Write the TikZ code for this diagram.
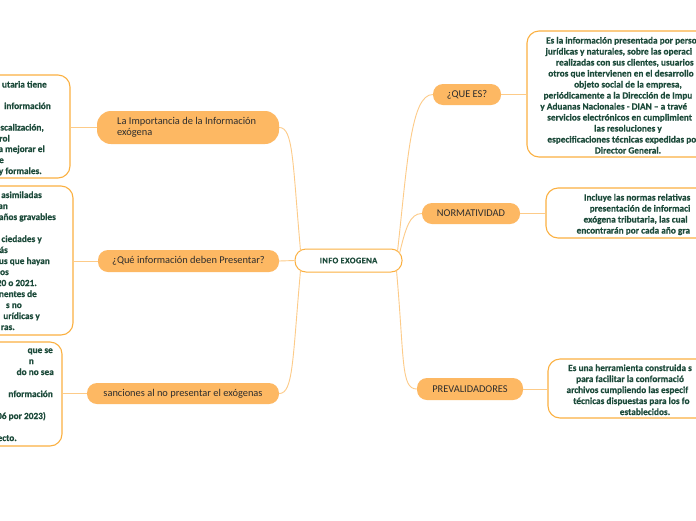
\documentclass[tikz,border=0pt]{standalone}
\usepackage{fontspec}
\setmainfont{Carlito}
\newfontfamily\boxfont{Carlito}[BoldFeatures={FakeBold=0.5}]
\newfontfamily\ctrfont{Carlito}[LetterSpace=5,BoldFeatures={FakeBold=0.5}]
\usetikzlibrary{calc}
\definecolor{ofill}{HTML}{FDB863}
\definecolor{oline}{HTML}{FBB041}
\definecolor{conn}{HTML}{FDCB88}
\definecolor{dgreen}{HTML}{1D4B3B}
\definecolor{ntext}{HTML}{2E2E2E}
\tikzset{
  topic/.style={fill=ofill, draw=none, rounded corners=10pt, minimum height=21pt,
    font=\fontsize{10.4}{11.5}\selectfont, text=ntext, inner sep=0pt},
  infobox/.style={draw=oline, line width=1.1pt, fill=white, rounded corners=12pt, inner sep=0pt},
  btxt/.style={font=\boxfont\bfseries\fontsize{9.3}{11}\selectfont, text=dgreen, inner sep=0pt},
  link/.style={draw=conn, line width=0.9pt},
}
\newcommand\myfrag[4]{\node[btxt, anchor=base east] (#1) at (#2,#3) {#4};}
\newcommand\myline[4]{\node[btxt, anchor=base] (#1) at (#2,#3) {#4};}
\begin{document}
\begin{tikzpicture}[x=1pt,y=-1pt]
\useasboundingbox (0,0) rectangle (696,520);
\clip (0,0) rectangle (696,520);
\fill[white] (0,0) rectangle (696,520);

% info boxes
\node[infobox, minimum width=200pt, minimum height=126pt] (r1) at (627,94) {};
\node[infobox, minimum width=200pt, minimum height=50pt] (r2) at (646,213) {};
\node[infobox, minimum width=200pt, minimum height=59pt] (r3) at (648,388.5) {};
\node[infobox, minimum width=200pt, minimum height=103pt] (l1) at (-30,126.5) {};
\node[infobox, minimum width=200pt, minimum height=149pt] (l2) at (-27,260.5) {};
\node[infobox, minimum width=200pt, minimum height=104pt] (l3) at (-38,394) {};

% topics
\node[topic, minimum width=68pt] (q) at (467,94.5) {¿QUE ES?};
\node[topic, minimum width=98pt] (n) at (471,213.5) {NORMATIVIDAD};
\node[topic, minimum width=106pt, minimum height=22pt] (p) at (470,389) {PREVALIDADORES};
\node[topic, minimum width=182pt, minimum height=33pt, rounded corners=14pt] (li) at (188,127.5) {};
\node[anchor=west, align=left, inner sep=0pt, font=\fontsize{10.4}{11.5}\selectfont, text=ntext] (lit) at (117,127.5) {La Importancia de la Información\\exógena};
\node[topic, minimum width=181pt, minimum height=22pt] (qi) at (188.5,261) {¿Qué información deben Presentar?};
\node[topic, minimum width=192pt] (s) at (183,393.5) {sanciones al no presentar el exógenas};

% central
\node[draw=oline, fill=white, line width=1pt, rounded corners=11pt, minimum width=107pt,
  minimum height=23pt, inner sep=0pt, text=dgreen,
  font=\ctrfont\bfseries\fontsize{8.4}{9}\selectfont] (c) at (348.5,260.5) {INFO EXOGENA};

% connectors
\draw[link] ($(c.east)+(-5,-9)$) .. controls +(10,-90) and +(-22,0) .. (q.west);
\draw[link] ($(c.east)+(-3,-7)$) .. controls +(6,-25) and +(-12,0) .. (n.west);
\draw[link] ($(c.east)+(-6,10)$) .. controls +(8,90) and +(-16,0) .. (p.west);
\draw[link] ($(c.west)+(6,-10)$) .. controls +(-8,-90) and +(14,0) .. (li.east);
\draw[link] (c.west) -- (qi.east);
\draw[link] ($(c.west)+(6,10)$) .. controls +(-8,90) and +(14,0) .. (s.east);
\draw[link] (q.east) -- (q.east -| r1.west);
\draw[link] (n.east) -- (n.east -| r2.west);
\draw[link] (p.east) -- (p.east -| r3.west);
\draw[link] (li.west) -- (li.west -| l1.east);
\draw[link] (qi.west) -- (qi.west -| l2.east);
\draw[link] (s.west) -- (s.west -| l3.east);

% right box 1 text
\myline{a1}{628}{43.5}{Es la información presentada por perso\phantom{nas}}
\myline{a2}{628}{54.5}{jurídicas y naturales, sobre las operaci\phantom{ones}}
\myline{a3}{628}{65.5}{realizadas con sus clientes, usuarios\phantom{ y}}
\myline{a4}{628}{76.5}{otros que intervienen en el desarrollo\phantom{ del}}
\myline{a5}{628}{87.5}{objeto social de la empresa,}
\myline{a6}{628}{98.5}{periódicamente a la Dirección de Impu\phantom{estos}}
\myline{a7}{628}{109.5}{y Aduanas Nacionales - DIAN – a travé\phantom{s de los}}
\myline{a8}{628}{120.5}{servicios electrónicos en cumplimient\phantom{o de}}
\myline{a9}{628}{131.5}{las resoluciones y}
\myline{a10}{628}{142.5}{especificaciones técnicas expedidas po\phantom{r el}}
\myline{a11}{628}{153.5}{Director General.}

% right box 2 text
\myline{b1}{645}{200.5}{Incluye las normas relativas\phantom{ a la}}
\myline{b2}{645}{211.5}{presentación de informaci\phantom{ón}}
\myline{b3}{645}{222.5}{exógena tributaria, las cual\phantom{es se}}
\myline{b4}{645}{233.5}{encontrarán por cada año gra\phantom{vable.}}

% right box 3 text
\myline{d1}{645}{371}{Es una herramienta construida s\phantom{in costo}}
\myline{d2}{645}{382}{para facilitar la conformació\phantom{n de los}}
\myline{d3}{645}{393}{archivos cumpliendo las especif\phantom{icaciones}}
\myline{d4}{645}{404}{técnicas dispuestas para los fo\phantom{rmatos}}
\myline{d5}{645}{415}{establecidos.}

% left box 1 text
\myfrag{e1}{47}{87.5}{utaria tiene}
\myfrag{e2}{51}{109}{información}
\myfrag{e3}{44}{130.5}{scalización,}
\myfrag{e4}{10}{141.5}{rol}
\myfrag{e5}{45}{152}{a mejorar el}
\myfrag{e6}{4}{163}{e}
\myfrag{e7}{42}{174}{y formales.}

% left box 2 text
\myfrag{f1}{42}{198}{asimiladas}
\myfrag{f2}{8}{209}{an}
\myfrag{f3}{56}{220}{años gravables}
\myfrag{f4}{42}{242}{ciedades y}
\myfrag{f5}{8}{253}{ás}
\myfrag{f6}{50}{264}{us que hayan}
\myfrag{f7}{9}{275}{sos}
\myfrag{f8}{37}{286}{20 o 2021.}
\myfrag{f9}{37}{297}{nentes de}
\myfrag{f10}{22}{308}{s no}
\myfrag{f11}{40}{319}{urídicas y}
\myfrag{f12}{15}{330}{ras.}

% left box 3 text
\myfrag{g1}{53}{353}{que se}
\myfrag{g2}{34}{364}{n}
\myfrag{g3}{54}{375}{do no sea}
\myfrag{g4}{53}{397}{nformación}
\myfrag{g5}{46}{419}{06 por 2023)}
\myfrag{g6}{17}{441}{ecto.}
\end{tikzpicture}
\end{document}
